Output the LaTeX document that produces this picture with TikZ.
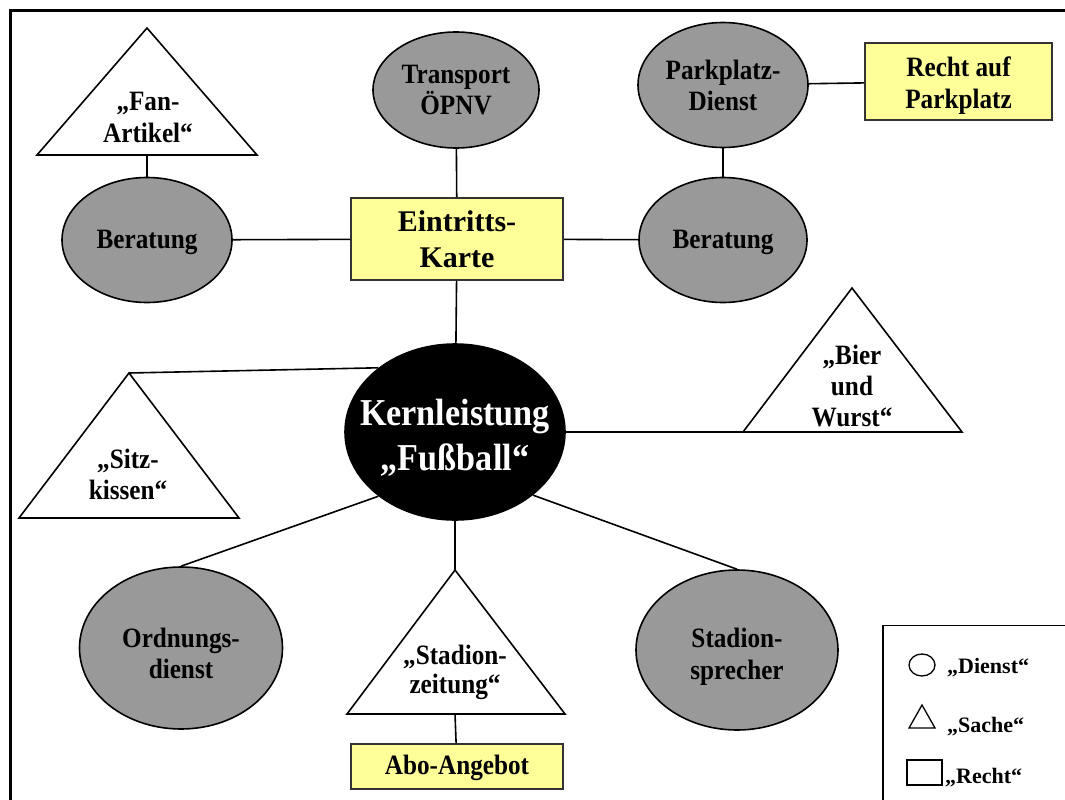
\documentclass[tikz,border=0pt]{standalone}
\usepackage{fontspec}
\setmainfont{Liberation Serif}[FakeStretch=0.9]
\newfontfamily\widefont{Liberation Serif}
\usetikzlibrary{shapes.geometric}

\definecolor{svcgray}{HTML}{999999}
\definecolor{rgtyellow}{HTML}{FFFF99}
\newcommand\txtsz[2]{\fontsize{#1}{#2}\selectfont}

\tikzset{
  svc/.style={ellipse, draw=black, fill=svcgray, line width=1.6pt, inner sep=0pt},
  core/.style={ellipse, draw=black, fill=black, line width=1.6pt, inner sep=0pt},
  rgt/.style={rectangle, draw=black!80, fill=rgtyellow, line width=1.6pt, inner sep=0pt},
  thing/.style={draw=black, fill=white, line width=1.6pt, line join=miter},
  lbl/.style={align=center, inner sep=0pt, text=black, font=\bfseries\txtsz{28}{31}},
  link/.style={draw=black, line width=1.6pt},
  frame/.style={draw=black, line width=3pt},
  keybox/.style={draw=black, line width=1.6pt},
  keytxt/.style={anchor=base west, inner sep=0pt, font=\widefont\bfseries\txtsz{22}{26}},
}

\begin{document}
\begin{tikzpicture}[x=1pt, y=-1pt]
\useasboundingbox (0,0) rectangle (1065,800);
\fill[white] (0,0) rectangle (1065,800);

% outer frame (left and top edges)
\draw[frame] (10.5,800) -- (10.5,10.5) -- (1065,10.5);

% services (grey ellipses)
\node[svc, minimum width=170pt, minimum height=125pt,
      label={[lbl, yshift=-2pt]center:Beratung}] (beraL) at (147,240) {};
\node[svc, minimum width=166pt, minimum height=116pt,
      label={[lbl]center:{Transport\\ÖPNV}}] (oepnv) at (456,90) {};
\node[svc, minimum width=170pt, minimum height=125pt,
      label={[lbl]center:{Parkplatz-\\Dienst}}] (park) at (723,85) {};
\node[svc, minimum width=168pt, minimum height=125pt,
      label={[lbl, yshift=-2pt]center:Beratung}] (beraR) at (723,240) {};
\node[svc, minimum width=203pt, minimum height=162pt,
      label={[lbl, yshift=-5pt]center:{Ordnungs-\\dienst}}] (ord) at (181,648) {};
\node[svc, minimum width=202pt, minimum height=160pt,
      label={[lbl, yshift=-7pt, font=\bfseries\txtsz{28}{32}]center:{Stadion-\\sprecher}}] (spr) at (737,650) {};

% core service
\node[core, minimum width=220pt, minimum height=176pt,
      label={[lbl, yshift=-6pt, text=white, font=\bfseries\txtsz{38}{45}]center:{Kernleistung\\„Fußball“}}] (kern) at (455,432) {};

% rights (yellow boxes)
\node[rgt, minimum width=212pt, minimum height=82pt,
      label={[lbl, font=\widefont\bfseries\txtsz{30}{36}]center:{Eintritts-\\Karte}}] (ticket) at (457,239) {};
\node[rgt, minimum width=187pt, minimum height=77pt,
      label={[lbl, yshift=-4pt, font=\bfseries\txtsz{28}{32}]center:{Recht auf\\Parkplatz}}] (parkRight) at (958.5,81.5) {};
\node[rgt, minimum width=212pt, minimum height=45pt,
      label={[lbl, yshift=-1pt]center:Abo-Angebot}] (abo) at (457,766.5) {};

% goods (triangles)
\coordinate (fanA) at (147,28);  \coordinate (fanL) at (37,155);  \coordinate (fanR) at (257,155);
\coordinate (fanB) at (147,155);
\draw[thing] (fanA) -- (fanR) -- (fanL) -- cycle;
\node[lbl, font=\bfseries\txtsz{28}{32}] (fan) at (148,117) {„Fan-\\Artikel“};

\coordinate (sitzA) at (129,373); \coordinate (sitzL) at (19,518); \coordinate (sitzR) at (239,518);
\draw[thing] (sitzA) -- (sitzR) -- (sitzL) -- cycle;
\node[lbl, font=\bfseries\txtsz{28}{31}] (sitz) at (128,474) {„Sitz-\\kissen“};

\coordinate (bierA) at (852,288); \coordinate (bierL) at (743,432); \coordinate (bierR) at (962,432);
\draw[thing] (bierA) -- (bierR) -- (bierL) -- cycle;
\node[lbl] (bier) at (852,386) {„Bier\\und\\Wurst“};

\coordinate (zeitA) at (455,570); \coordinate (zeitL) at (347,714); \coordinate (zeitR) at (565,714);
\coordinate (zeitB) at (455,714);
\draw[thing] (zeitA) -- (zeitR) -- (zeitL) -- cycle;
\node[lbl, font=\bfseries\txtsz{28}{29}] (zeit) at (455,672) {„Stadion-\\zeitung“};

% connectors
\draw[link] (fanB) -- (beraL);
\draw[link] (beraL) -- (ticket);
\draw[link] (ticket) -- (beraR);
\draw[link] (oepnv) -- (ticket);
\draw[link] (park) -- (beraR);
\draw[link] (park) -- (parkRight);
\draw[link] (ticket) -- (kern);
\draw[link] (sitzA) -- (kern.140);
\draw[link] (kern.east) -- (bierL);
\draw[link] (kern.220) -- (ord.north);
\draw[link] (kern.south) -- (zeitA);
\draw[link] (kern.-39) -- (spr.north);
\draw[link] (zeitB) -- (abo);

% legend
\draw[keybox] (883,800) -- (883,625.5) -- (1065,625.5);
\node[ellipse, draw=black, line width=1.3pt, minimum width=26pt, minimum height=22pt, inner sep=0pt] (keyCirc) at (922,665) {};
\node[keytxt] (keyDienst) at (947,673) {„Dienst“};
\coordinate (keyTriA) at (922,705); \coordinate (keyTriL) at (909,728); \coordinate (keyTriR) at (935,728);
\draw[line width=1.3pt, line join=miter] (keyTriA) -- (keyTriR) -- (keyTriL) -- cycle;
\node[keytxt] (keySache) at (947,732) {„Sache“};
\node[rectangle, draw=black, line width=1.3pt, minimum width=35pt, minimum height=25pt, inner sep=0pt] (keyRect) at (924.5,772.5) {};
\node[keytxt] (keyRecht) at (945,783) {„Recht“};
\end{tikzpicture}
\end{document}
